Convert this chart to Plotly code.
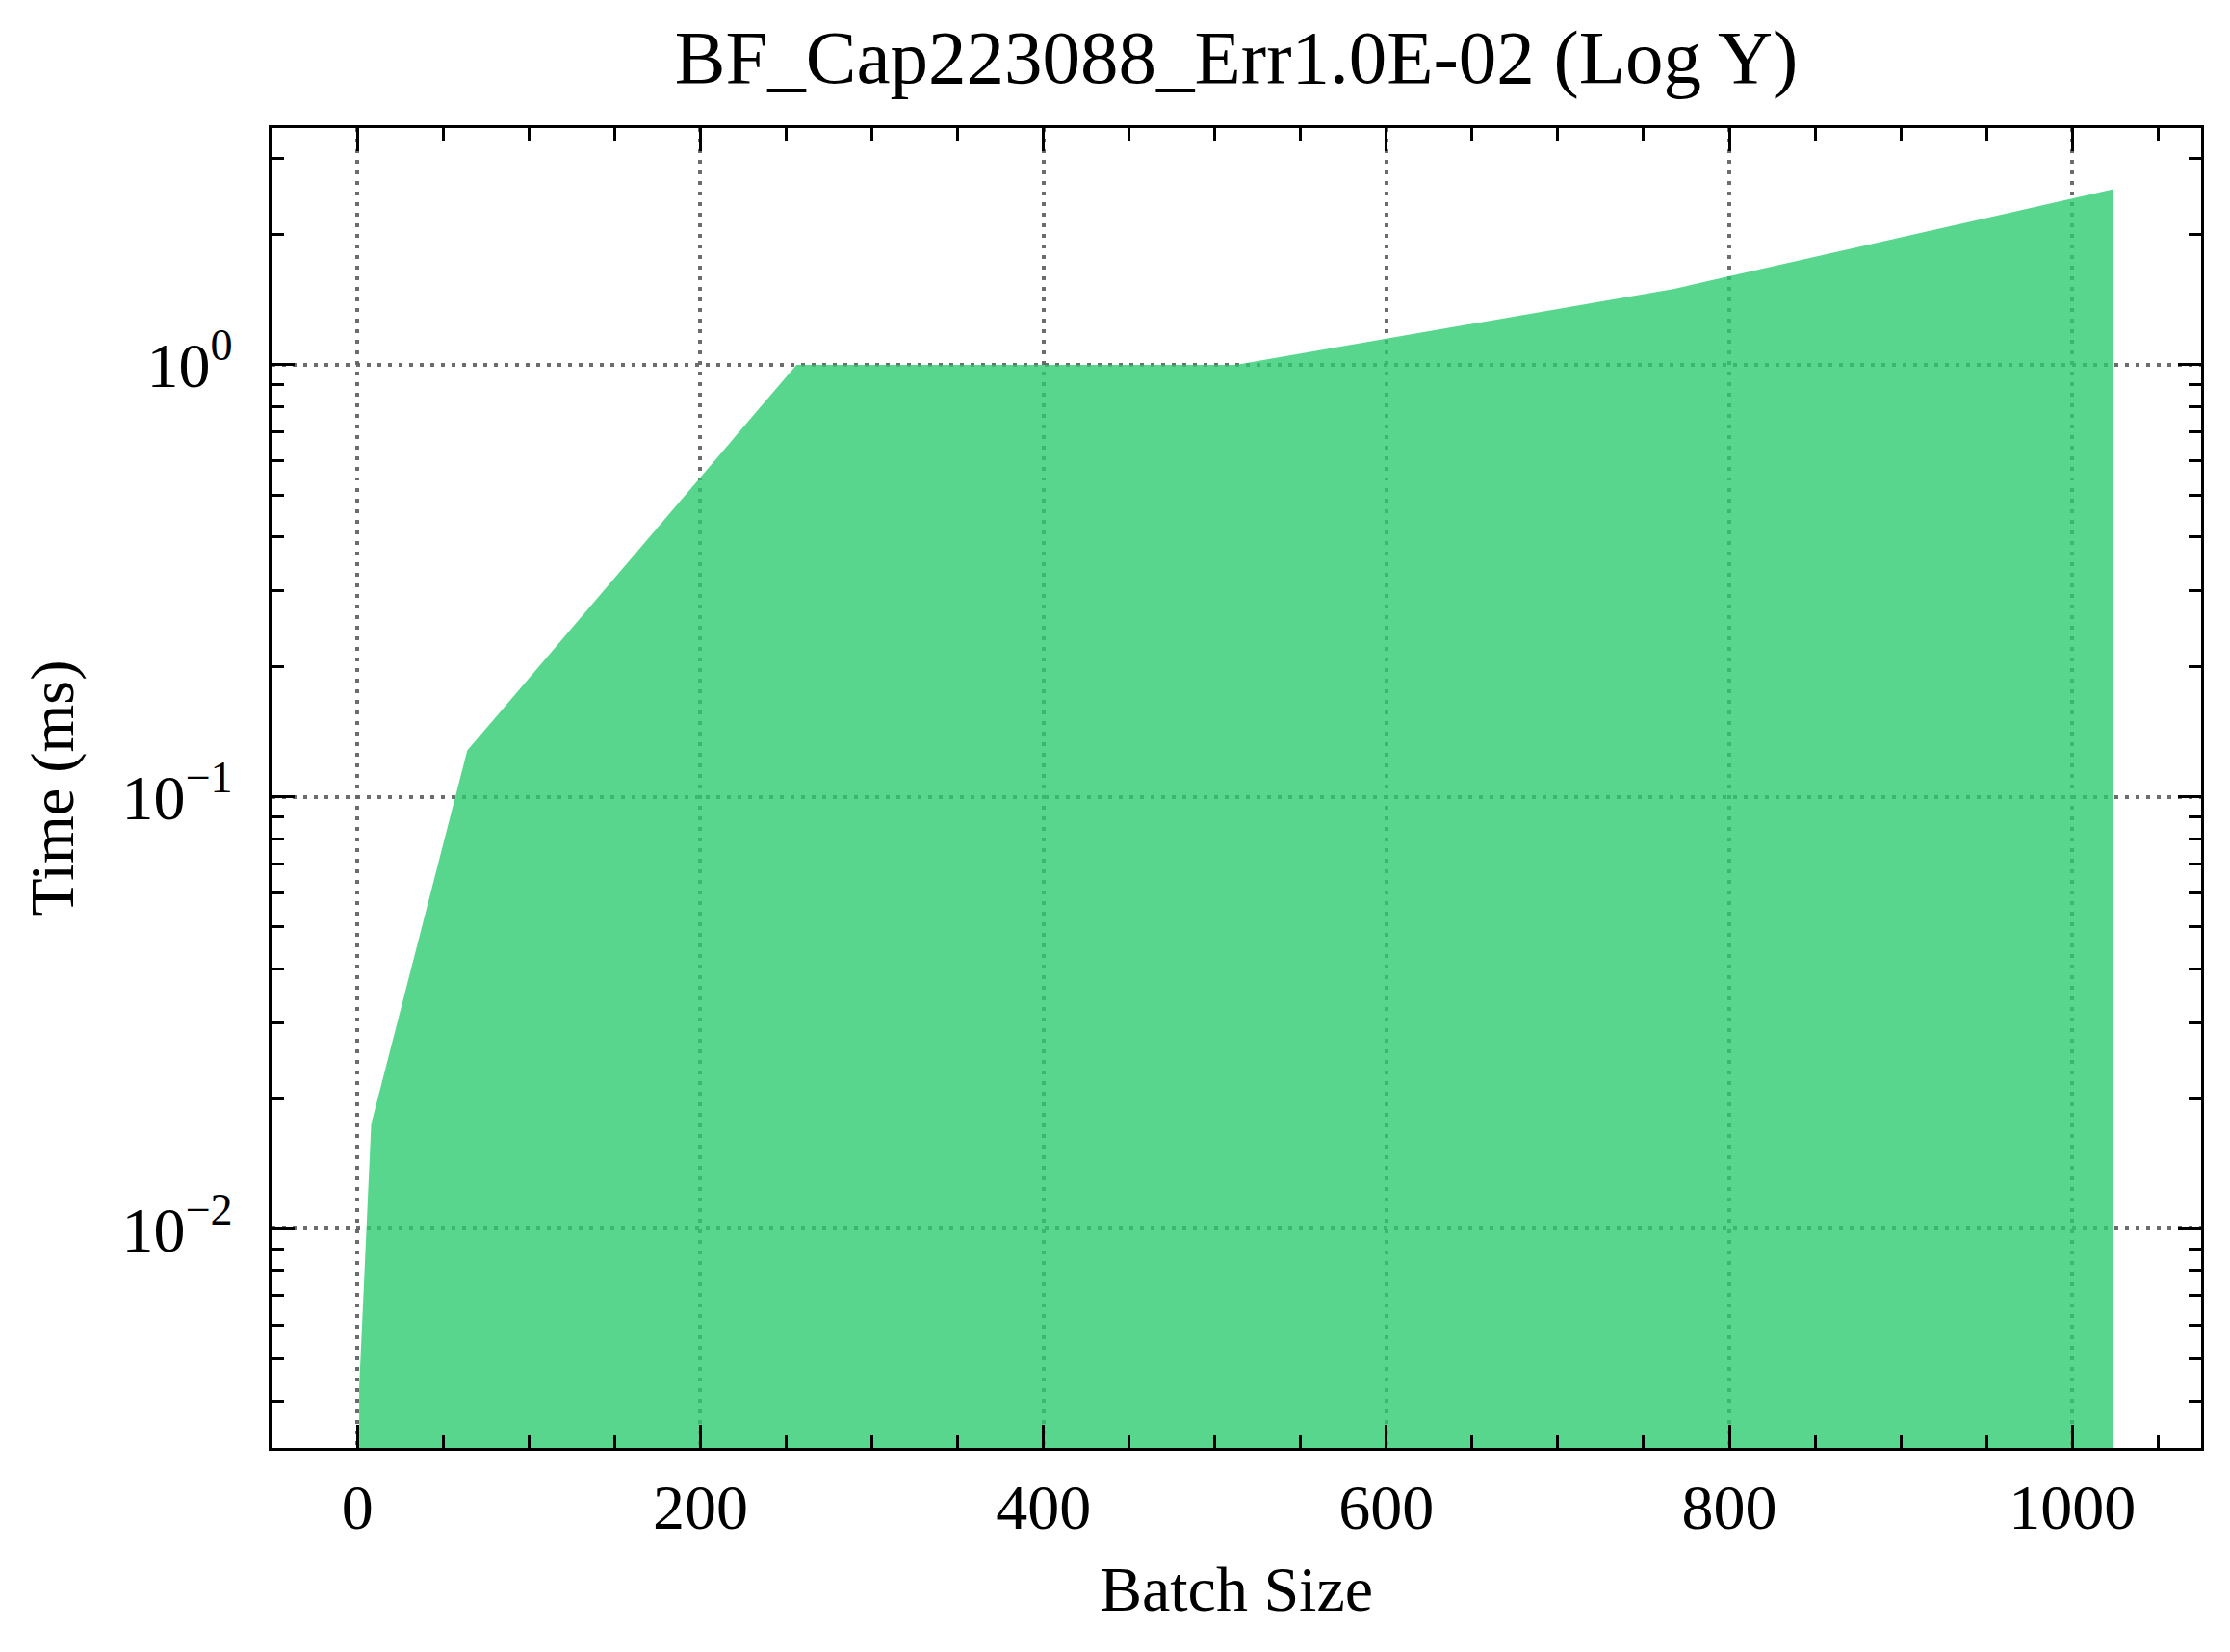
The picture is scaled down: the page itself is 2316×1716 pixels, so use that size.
import plotly.graph_objects as go

# Data
batch_size = [1, 8, 64, 256, 512, 768, 1024]
time_ms = [0.0043, 0.0175, 0.128, 1.0, 1.0, 1.5, 2.55]

x_major = [0, 200, 400, 600, 800, 1000]
y_major = [0.01, 0.1, 1]
y_major_text = ["10<sup>\u22122</sup>", "10<sup>\u22121</sup>", "10<sup>0</sup>"]
y_minor = [m * 10.0 ** e for e in (-3, -2, -1, 0) for m in range(2, 10)]

title_text = "BF_Cap223088_Err1.0E-02 (Log Y)"
x_title = "Batch Size"
y_title = "Time (ms)"

FONT = "Liberation Serif"
# the page body adds an 8px margin, so the figure is slightly smaller
W, H = 2308, 1700
ML, MR, MT, MB = 274, 30, 125, 204

fig = go.Figure()
fig.add_trace(go.Scatter(
    x=batch_size, y=time_ms, mode="lines", fill="tozeroy",
    line=dict(width=0, color="rgba(46,204,113,0.8)"),
    fillcolor="rgba(46,204,113,0.8)", showlegend=False,
))

axis_common = dict(
    showline=True, linecolor="black", linewidth=3.3, mirror="ticks",
    ticks="inside", ticklen=24, tickwidth=3.3, tickcolor="black",
    showgrid=True, gridcolor="rgba(100,100,100,0.95)", gridwidth=3.5,
    griddash="3.5px,7.5px", zeroline=False,
    tickfont=dict(family=FONT, size=66, color="black"),
)

fig.update_layout(
    width=W, height=H,
    margin=dict(l=ML, r=MR, t=MT, b=MB, pad=0),
    paper_bgcolor="white", plot_bgcolor="white",
    font=dict(family=FONT, color="black"),
    title=dict(text=title_text, x=(ML + (W - MR)) / 2 / W, xanchor="center",
               y=1 - 78 / H, yanchor="bottom", yref="container",
               font=dict(family=FONT, size=79, color="black")),
    xaxis=dict(
        range=[-50.15, 1075.15], tickmode="array", tickvals=x_major,
        ticktext=[str(v) for v in x_major],
        minor=dict(dtick=50, tick0=0, ticks="inside", ticklen=12.5,
                   tickwidth=3, tickcolor="black", showgrid=False),
        title=dict(text=x_title, font=dict(family=FONT, size=66, color="black"),
                   standoff=26),
        ticklabelstandoff=2,
        **axis_common,
    ),
    yaxis=dict(
        type="log", range=[-2.507, 0.548], tickmode="array",
        tickvals=y_major, ticktext=y_major_text,
        minor=dict(tickmode="array", tickvals=y_minor, ticks="inside",
                   ticklen=12.5, tickwidth=3, tickcolor="black", showgrid=False),
        title=dict(text=y_title, font=dict(family=FONT, size=64, color="black"),
                   standoff=30),
        ticklabelstandoff=24,
        **axis_common,
    ),
)

fig.write_html("out.html")
